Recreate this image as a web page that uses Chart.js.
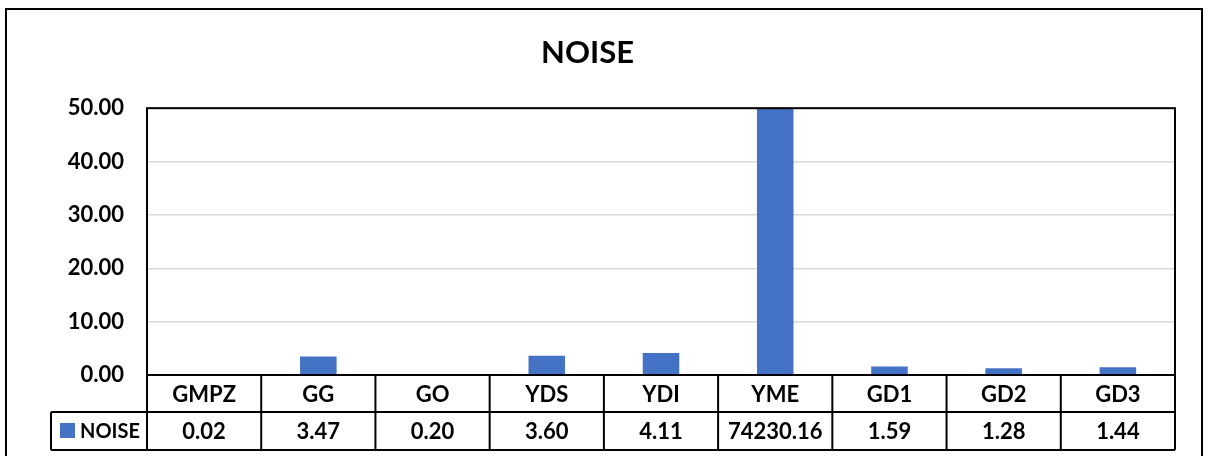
<!DOCTYPE html>
<html>
<head>
<meta charset="utf-8">
<script src="https://cdn.jsdelivr.net/npm/chart.js@4/dist/chart.umd.min.js"></script>
<style>
  html, body { margin: 0; padding: 0; background: #fff; }
  #wrap { width: 1209px; height: 456px; position: relative; }
</style>
</head>
<body>
<div id="wrap"><canvas id="grafico"></canvas></div>
<script>
const categories = ['GMPZ', 'GG', 'GO', 'YDS', 'YDI', 'YME', 'GD1', 'GD2', 'GD3'];
const noiseValues = [0.02, 3.47, 0.20, 3.60, 4.11, 74230.16, 1.59, 1.28, 1.44];
const seriesName = 'NOISE';
const yMin = 0;
const yMax = 50;
const yStep = 10;

const fontFamily = 'Lato, "Open Sans", sans-serif';
const barColor = '#4472C4';

// dibuja el marco, el borde del area y la tabla de datos debajo del eje
const tablaDatos = {
    id: 'tablaDatos',
    afterDraw(chart) {
        const { ctx, chartArea: a, scales: { x } } = chart;
        const row1 = a.bottom + 37;
        const row2 = a.bottom + 75;
        const legendLeft = 51;
        const step = (a.right - a.left) / categories.length;

        ctx.save();
        ctx.strokeStyle = '#000';
        ctx.lineWidth = 2;

        // marco exterior
        ctx.strokeRect(6, 9, 1196, 460);

        // borde del area
        ctx.strokeRect(a.left, a.top, a.right - a.left, a.bottom - a.top);

        // lineas de la tabla
        ctx.beginPath();
        ctx.moveTo(legendLeft, row1); ctx.lineTo(a.right, row1);
        ctx.moveTo(legendLeft, row2); ctx.lineTo(a.right, row2);
        ctx.moveTo(legendLeft, row1); ctx.lineTo(legendLeft, row2);
        for (let i = 0; i <= categories.length; i++) {
            const px = a.left + i * step;
            ctx.moveTo(px, a.bottom); ctx.lineTo(px, row2);
        }
        ctx.stroke();

        ctx.fillStyle = '#000';
        ctx.font = 'bold 22px ' + fontFamily;
        ctx.textAlign = 'center';
        ctx.textBaseline = 'middle';
        categories.forEach((c, i) => {
            const cx = x.getPixelForValue(i);
            ctx.fillText(c, cx, (a.bottom + row1) / 2 + 1);
            ctx.fillText(noiseValues[i].toFixed(2), cx, (row1 + row2) / 2 + 1);
        });

        // leyenda en la tabla
        ctx.fillStyle = chart.data.datasets[0].backgroundColor;
        ctx.fillRect(60, 423, 15, 15);
        ctx.fillStyle = '#000';
        ctx.textAlign = 'left';
        ctx.font = 'bold 20px ' + fontFamily;
        ctx.fillText(seriesName, 80, (row1 + row2) / 2 + 1);
        ctx.restore();
    }
};

new Chart(document.getElementById('grafico'), {
    type: 'bar',
    data: {
        labels: categories,
        datasets: [{
            label: seriesName,
            data: noiseValues,
            backgroundColor: barColor,
            borderWidth: 0,
            categoryPercentage: 1,
            barPercentage: 0.32
        }]
    },
    options: {
        responsive: true,
        maintainAspectRatio: false,
        animation: false,
        layout: { padding: { left: 0, right: 34, top: 0, bottom: 81 } },
        plugins: {
            legend: { display: false },
            tooltip: { enabled: false },
            title: {
                display: true,
                text: 'NOISE',
                color: '#000',
                font: { family: fontFamily, size: 31, weight: 'bold' },
                padding: { top: 34, bottom: 37 }
            }
        },
        scales: {
            x: { display: false },
            y: {
                min: yMin,
                max: yMax,
                afterFit(scale) { scale.width = 147; },
                border: { display: false },
                grid: { color: '#d9d9d9', lineWidth: 1.5, drawTicks: false },
                ticks: {
                    stepSize: yStep,
                    padding: 23,
                    color: '#000',
                    font: { family: fontFamily, size: 22, weight: 'bold' },
                    callback: v => v.toFixed(2)
                }
            }
        }
    },
    plugins: [tablaDatos]
});
</script>
</body>
</html>
